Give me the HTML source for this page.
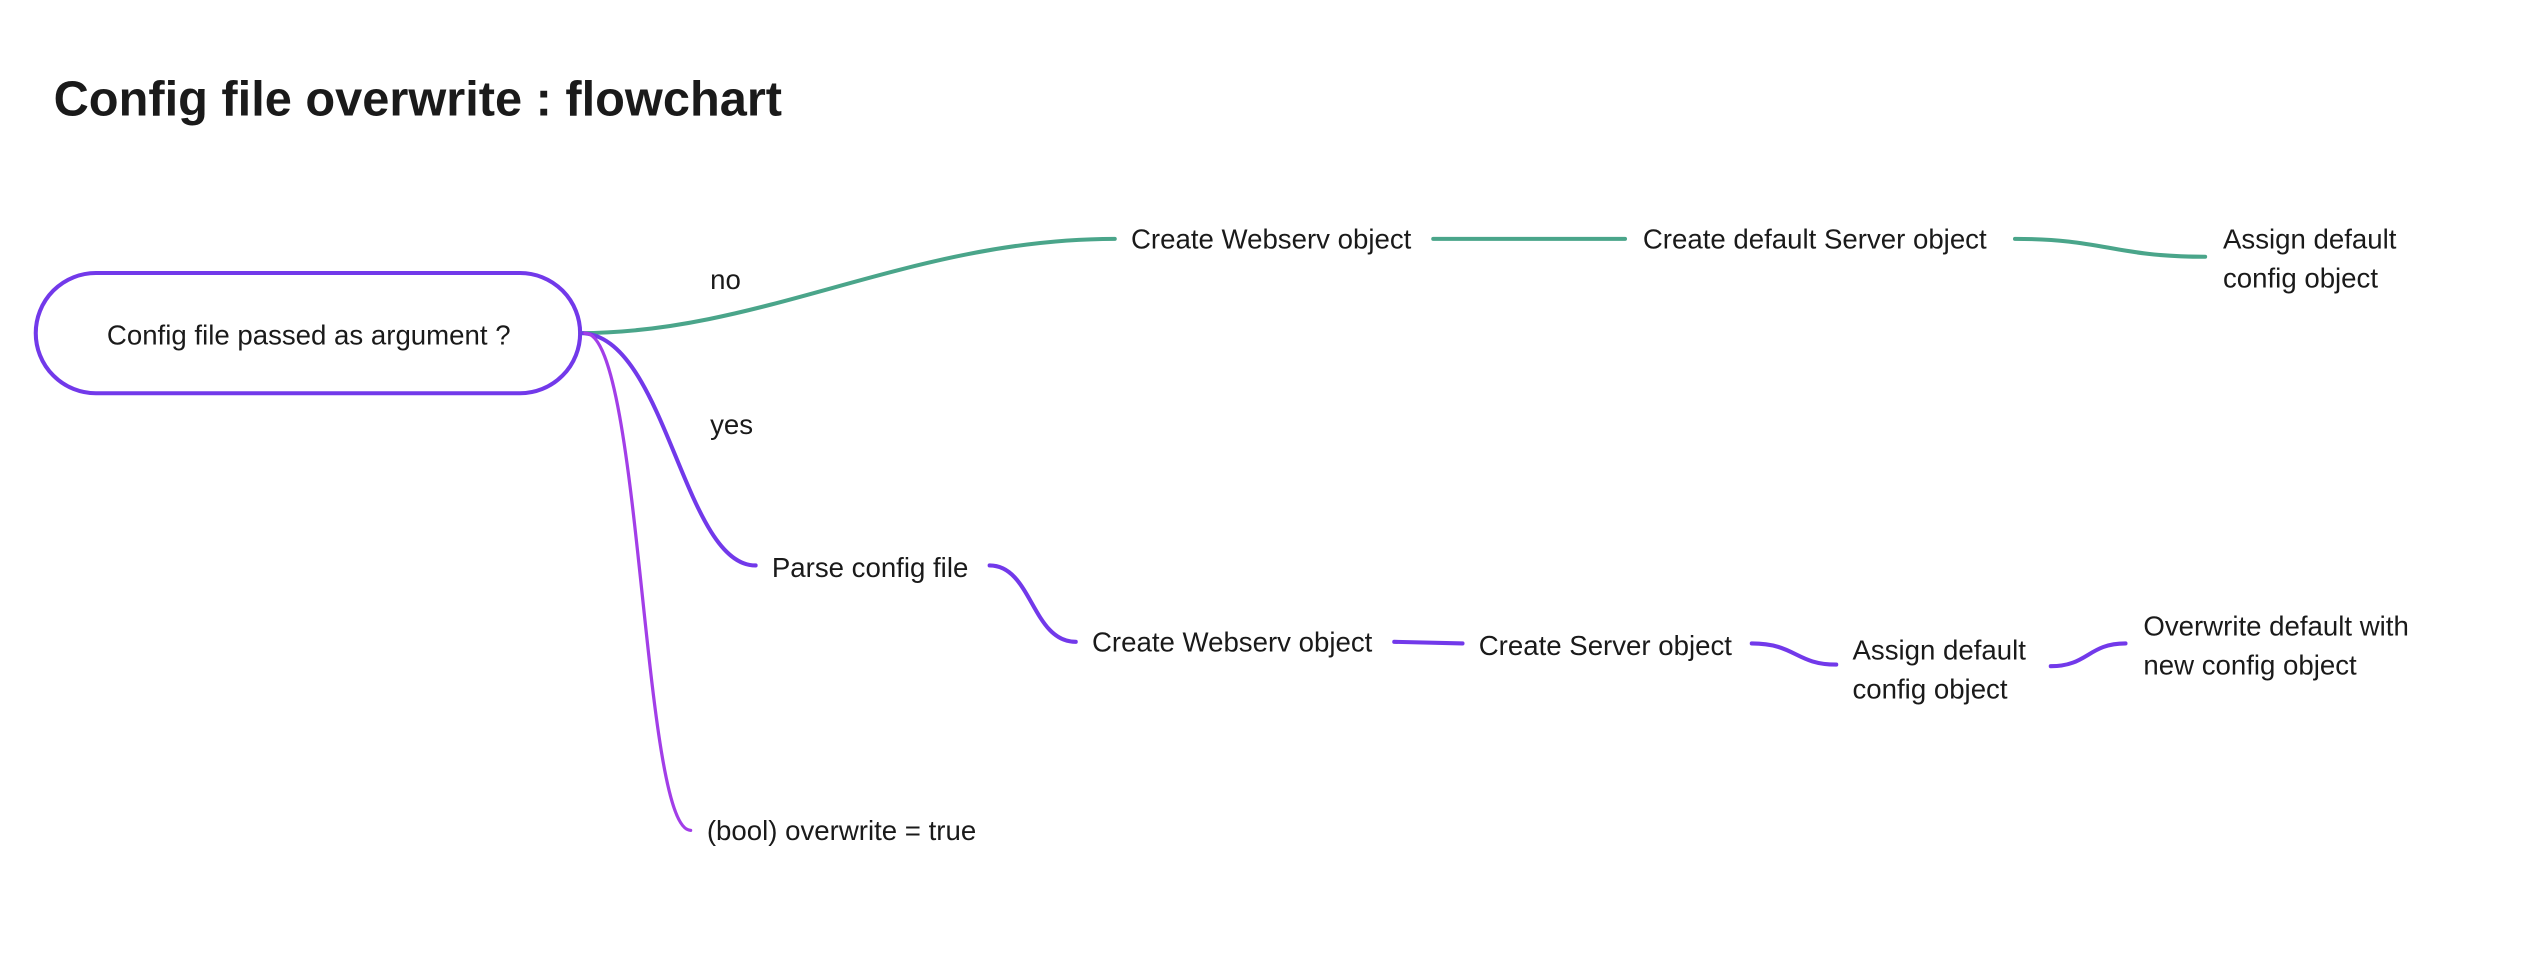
<!DOCTYPE html>
<html><head><meta charset="utf-8"><style>
html,body{margin:0;padding:0;background:#fff;}
svg{display:block;}
text{font-family:"Liberation Sans",sans-serif;font-size:17px;fill:#1a1a1a;}
</style></head><body>
<svg width="2548" height="966" viewBox="0 0 1568 594.5" preserveAspectRatio="none" xmlns="http://www.w3.org/2000/svg">
<rect width="1568" height="594.5" fill="#fff"/>
<text x="33" y="71" style="font-size:30px;font-weight:bold;fill:#1a1a1a">Config file overwrite : flowchart</text>
<rect x="22" y="168" width="335" height="74" rx="37" ry="37" fill="#fff" stroke="#7239ea" stroke-width="2.5"/>
<text x="190" y="212" text-anchor="middle">Config file passed as argument ?</text>
<g fill="none" stroke-width="2.5" stroke-linecap="round">
<path d="M357,205 C470,205 560,147 686,147" stroke="#4aa58a"/>
<path d="M882,147 L1000,147" stroke="#4aa58a"/>
<path d="M1240,147 C1295,147 1300,158 1357,158" stroke="#4aa58a"/>
<path d="M357,205 C410,205 420,348 465,348" stroke="#7239ea"/>
<path d="M609,348 C635,348 635,395 662,395" stroke="#7239ea"/>
<path d="M858,395 L900,396" stroke="#7239ea"/>
<path d="M1078,396 C1105,396 1105,409 1130,409" stroke="#7239ea"/>
<path d="M1262,410 C1285,410 1285,396 1308,396" stroke="#7239ea"/>
<path d="M360,205 C395,205 395,511 425,511" stroke="#a23ee8" stroke-width="2"/>
</g>
<text x="437" y="178">no</text>
<text x="437" y="267">yes</text>
<text x="696" y="153">Create Webserv object</text>
<text x="1011" y="153">Create default Server object</text>
<text x="1368" y="153">Assign default</text>
<text x="1368" y="177">config object</text>
<text x="475" y="355">Parse config file</text>
<text x="672" y="401">Create Webserv object</text>
<text x="910" y="403">Create Server object</text>
<text x="1140" y="406">Assign default</text>
<text x="1140" y="430">config object</text>
<text x="1319" y="391">Overwrite default with</text>
<text x="1319" y="415">new config object</text>
<text x="435" y="517">(bool) overwrite = true</text>
</svg>
</body></html>
